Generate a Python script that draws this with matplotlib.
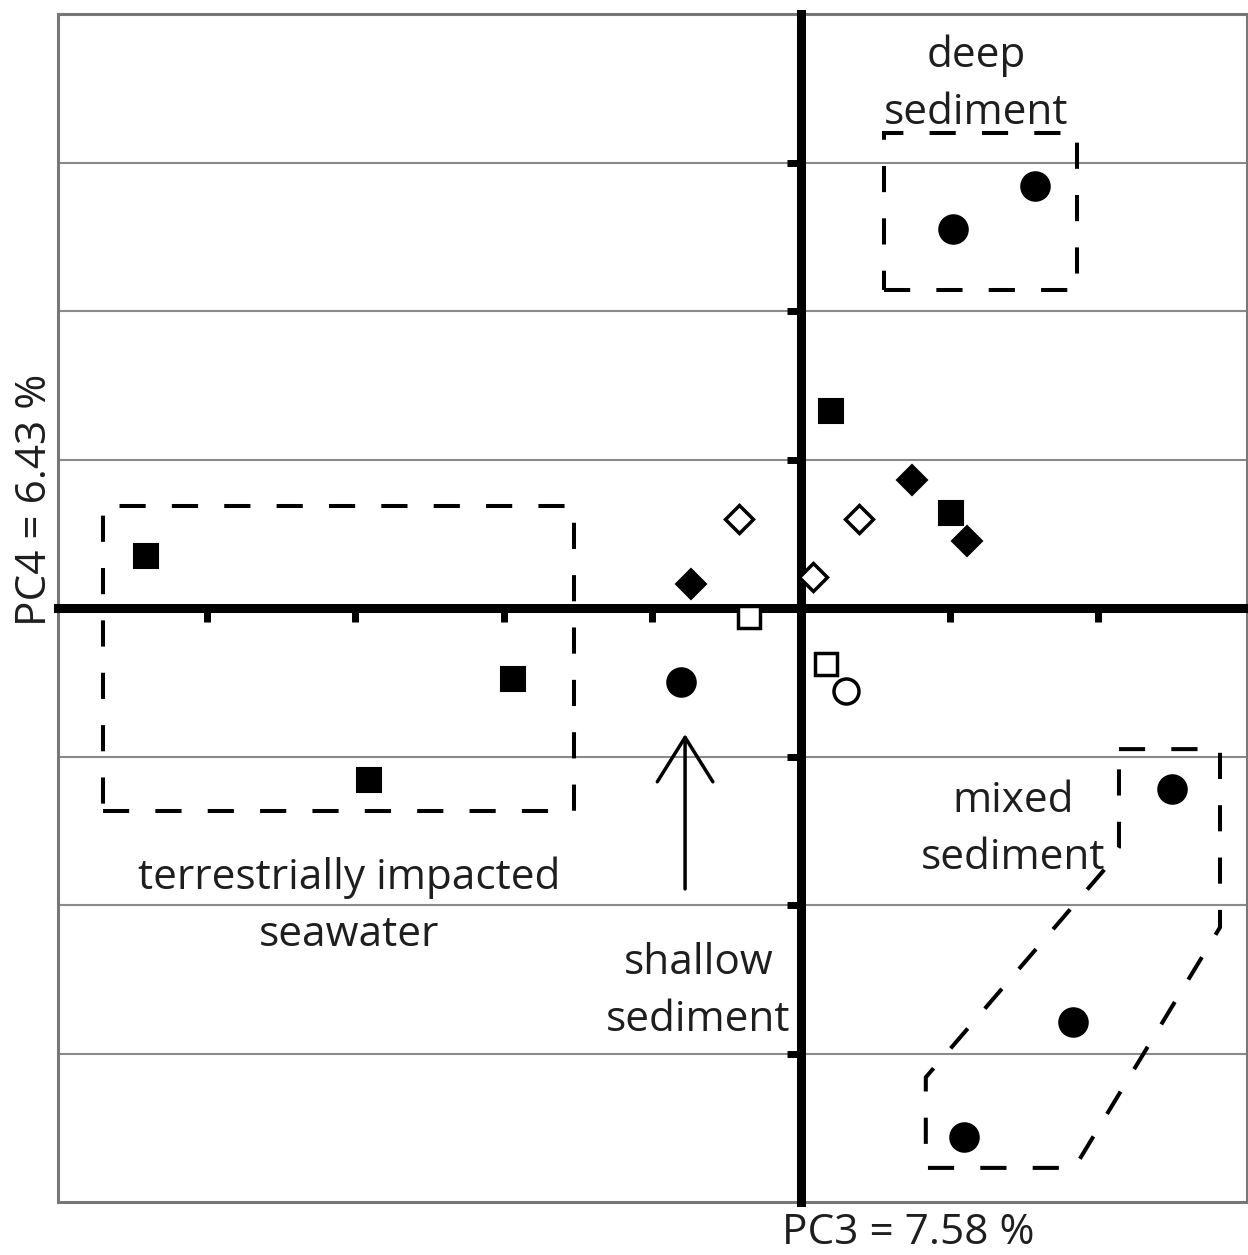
import matplotlib
matplotlib.use("Agg")
import matplotlib.pyplot as plt
from matplotlib.patches import Rectangle, Polygon

plt.rcParams['font.family'] = ['Open Sans', 'DejaVu Sans']

# PCA scores (PC3, PC4)
circ_x = [1.575, 1.02, -0.81, 2.50, 1.83, 1.10]
circ_y = [2.84, 2.55, -0.50, -1.22, -2.79, -3.56]
ocirc_x = [0.30]
ocirc_y = [-0.56]
sq_x = [0.20, 1.01, -4.41, -1.94, -2.91]
sq_y = [1.33, 0.64, 0.35, -0.48, -1.16]
osq_x = [-0.35, 0.17]
osq_y = [-0.06, -0.38]
dia_x = [-0.74, 0.75, 1.12]
dia_y = [0.16, 0.86, 0.45]
odia_x = [-0.42, 0.39, 0.08]
odia_y = [0.60, 0.60, 0.21]

# group outlines
deep_box = (0.56, 2.14, 1.30, 1.06)          # x, y, w, h
terr_box = (-4.70, -1.37, 3.17, 2.06)
mixed_poly = [(2.14, -0.95), (2.82, -0.95), (2.82, -2.15), (1.84, -3.77),
              (0.84, -3.77), (0.84, -3.16), (2.06, -1.74), (2.14, -1.61)]

fig = plt.figure(figsize=(12.48, 12.55), dpi=100)
ax = fig.add_axes([0.0465, 0.0422, 0.9525, 0.9466])
ax.set_xlim(-5, 3)
ax.set_ylim(-4, 4)

ax.set_axisbelow(True)
ax.yaxis.grid(True, color='#8a8a8a', lw=1.5)
ax.set_yticks([-3, -2, -1, 0, 1, 2, 3])
ax.set_xticks([-4, -3, -2, -1, 0, 1, 2])
ax.tick_params(direction='out', length=10, width=5, color='black',
               labelbottom=False, labelleft=False)

for s in ['top', 'right']:
    ax.spines[s].set_visible(False)
for s in ['left', 'bottom']:
    ax.spines[s].set_position(('data', 0))
    ax.spines[s].set_linewidth(6.5)
    ax.spines[s].set_color('black')

ax.add_patch(Rectangle((0, 0), 1, 1, transform=ax.transAxes, fill=False,
                       ec='#777777', lw=2.2, clip_on=False, zorder=1))

dash = (0, (6.5, 6.5))
ax.add_patch(Rectangle(deep_box[:2], deep_box[2], deep_box[3], fill=False,
                       ec='black', lw=2.9, ls=dash))
ax.add_patch(Rectangle(terr_box[:2], terr_box[2], terr_box[3], fill=False,
                       ec='black', lw=2.9, ls=dash))
ax.add_patch(Polygon(mixed_poly, closed=True, fill=False, ec='black',
                     lw=2.9, ls=dash))

ax.plot(circ_x, circ_y, 'o', ms=20.5, mfc='black', mec='black', mew=1.5, zorder=5)
ax.plot(ocirc_x, ocirc_y, 'o', ms=18, mfc='white', mec='black', mew=2.5, zorder=5)
ax.plot(sq_x, sq_y, 's', ms=17, mfc='black', mec='black', mew=1.5, zorder=5)
ax.plot(osq_x, osq_y, 's', ms=15.5, mfc='white', mec='black', mew=2.5, zorder=5)
ax.plot(dia_x, dia_y, 'D', ms=15.5, mfc='black', mec='black', mew=1.5, zorder=5)
ax.plot(odia_x, odia_y, 'D', ms=14, mfc='white', mec='black', mew=2.5, zorder=5)

ax.annotate('', xy=(-0.78, -0.83), xytext=(-0.78, -1.91),
            arrowprops=dict(arrowstyle='->,head_length=0.8,head_width=0.5',
                            lw=2.5, color='black', mutation_scale=40))

fs = 30.5
ls = 1.47
ax.text(1.18, 3.53, 'deep\nsediment', ha='center', va='center', fontsize=fs,
        linespacing=ls, color='#1e1e1e')
ax.text(-3.04, -2.01, 'terrestrially impacted\nseawater', ha='center', va='center',
        fontsize=fs, linespacing=ls, color='#1e1e1e')
ax.text(-0.69, -2.58, 'shallow\nsediment', ha='center', va='center', fontsize=fs,
        linespacing=ls, color='#1e1e1e')
ax.text(1.43, -1.49, 'mixed\nsediment', ha='center', va='center', fontsize=fs,
        linespacing=ls, color='#1e1e1e')

fig.text(908 / 1248, 1 - 1233 / 1255, 'PC3 = 7.58 %', ha='center', va='center',
         fontsize=fs, color='#1e1e1e')
fig.text(35 / 1248, 1 - 500 / 1255, 'PC4 = 6.43 %', ha='center', va='center',
         rotation=90, fontsize=fs, color='#1e1e1e')

fig.savefig('out.png', dpi=100)
